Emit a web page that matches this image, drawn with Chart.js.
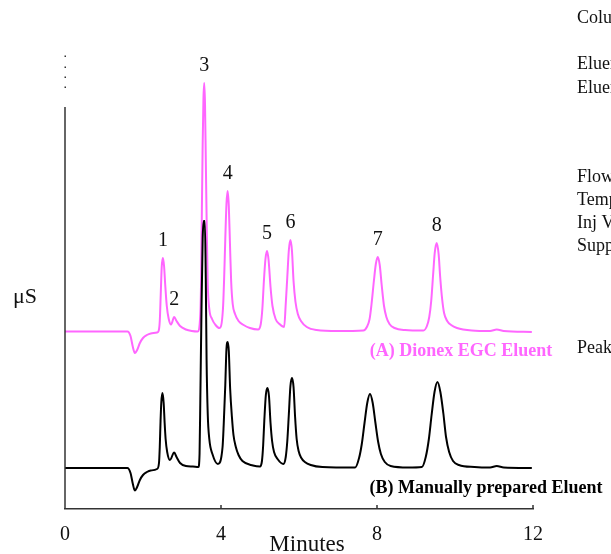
<!DOCTYPE html>
<html>
<head>
<meta charset="utf-8">
<script src="https://cdn.jsdelivr.net/npm/chart.js@4.4.1/dist/chart.umd.min.js"></script>
<style>
    body { margin: 0; background: #fff; }
    #chromChart { display: block; }
</style>
</head>
<body>
<canvas id="chromChart" width="611" height="554"></canvas>
<script>
// trace A - Dionex EGC eluent (pink)
var timeA = [0, 1.6, 1.68, 1.74, 1.79, 1.85, 1.92, 2.0, 2.1, 2.2, 2.36,
    2.4, 2.43, 2.455, 2.48, 2.51, 2.54, 2.57, 2.61, 2.66, 2.72,
    2.8, 2.86, 2.95, 3.1, 3.25, 3.4,
    3.47, 3.49, 3.51, 3.53, 3.55, 3.57, 3.59, 3.61, 3.635, 3.66, 3.7, 3.77, 3.86, 3.96,
    4.05, 4.08, 4.11, 4.14, 4.17, 4.2, 4.23, 4.26, 4.3, 4.36, 4.45, 4.58, 4.74, 4.95,
    5.02, 5.06, 5.1, 5.14, 5.18, 5.22, 5.27, 5.32, 5.4, 5.5, 5.62,
    5.66, 5.7, 5.74, 5.78, 5.82, 5.86, 5.91, 5.97, 6.05, 6.2, 6.45, 7.0, 7.65,
    7.74, 7.81, 7.86, 7.92, 7.97, 8.02, 8.07, 8.12, 8.18, 8.24, 8.32, 8.45, 8.72, 9.19,
    9.28, 9.34, 9.39, 9.44, 9.48, 9.53, 9.58, 9.62, 9.67, 9.72, 9.8, 9.9, 10.05, 10.43,
    10.9, 11.07, 11.25, 11.97];
var sigA = [177.5, 177.5, 173, 162, 156, 159, 166, 171, 174, 175.5, 176.5,
    178, 188, 215, 242, 251, 243, 224, 203, 190, 184.5,
    192, 188, 183, 179.5, 178, 177.5,
    195, 230, 300, 365, 410, 426, 405, 350, 280, 225, 200, 190, 184, 181,
    200, 230, 270, 305, 318, 303, 265, 228, 205, 195, 188, 184, 181, 179.5,
    185, 200, 228, 250, 258, 249, 222, 203, 190, 185, 182,
    205, 232, 259, 269, 258, 228, 207, 195, 188, 182, 179, 178, 178.5,
    182, 190, 205, 228, 245, 252, 244, 224, 203, 192, 185, 181, 179, 178.5,
    183, 192, 208, 235, 256, 266, 255, 232, 210, 196, 188, 184, 181, 178.5,
    178, 179.5, 178, 177];

// trace B - manually prepared eluent (black)
var timeB = [0, 1.6, 1.68, 1.74, 1.79, 1.85, 1.92, 2.0, 2.1, 2.2, 2.36,
    2.41, 2.43, 2.45, 2.47, 2.5, 2.53, 2.555, 2.58, 2.62, 2.69,
    2.8, 2.86, 2.95, 3.1, 3.28, 3.42,
    3.45, 3.47, 3.5, 3.53, 3.555, 3.585, 3.61, 3.63, 3.66, 3.7, 3.78, 3.92,
    4.04, 4.07, 4.11, 4.14, 4.17, 4.2, 4.235, 4.28, 4.32, 4.38, 4.45, 4.55, 4.82, 5.0,
    5.05, 5.08, 5.11, 5.15, 5.19, 5.23, 5.27, 5.31, 5.36, 5.45, 5.6,
    5.66, 5.7, 5.74, 5.78, 5.82, 5.86, 5.9, 5.94, 5.99, 6.06, 6.15, 6.3, 6.6, 7.44,
    7.54, 7.61, 7.68, 7.75, 7.82, 7.89, 7.96, 8.03, 8.1, 8.2, 8.35, 8.8, 9.15,
    9.25, 9.33, 9.4, 9.475, 9.55, 9.625, 9.7, 9.77, 9.85, 9.95, 10.1, 10.5,
    10.9, 11.07, 11.25, 11.97];
var sigB = [41, 41, 36, 25, 18.5, 22, 29, 34, 37, 38.5, 40,
    46, 62, 88, 107, 116, 106, 86, 70, 57, 49,
    56.5, 52, 46, 43, 42.5, 42,
    55, 110, 200, 270, 288, 288, 230, 150, 95, 70, 55, 45,
    62, 85, 124, 160, 167, 158, 120, 92, 74, 62, 54, 48, 43.5, 42.5,
    48, 63, 88, 114, 121, 113, 86, 68, 57, 50, 45,
    52, 68, 95, 123, 131, 122, 92, 70, 58, 51, 47, 44, 42, 41.5,
    51, 65, 86, 106, 115, 106, 86, 67, 55, 47, 43, 41.5, 42,
    52, 70, 94, 117, 127, 117, 96, 72, 57, 48, 44, 42,
    41.5, 43, 41.5, 41];

var xTicks = [0, 4, 8, 12];
var peakNames = ['1', '2', '3', '4', '5', '6', '7', '8'];
var peakTimes = [2.51, 2.8, 3.57, 4.17, 5.18, 5.78, 8.02, 9.53];
var sideLabels = ['Column:', 'Eluent:', 'Eluent Source:', 'Flow Rate:',
    'Temperature:', 'Inj Volume:', 'Suppressor:', 'Peaks:'];
var sideBaselines = [23, 69, 93, 182, 205, 228, 251, 353];

var pink = '#ff66ff';
var serif = "'Liberation Serif', 'Times New Roman', serif";

function toPoints(times, values) {
    return times.map(function (t, i) { return { x: t, y: values[i] }; });
}

// highest point of trace A close to a peak time
function peakHeight(t) {
    var best = 0;
    timeA.forEach(function (tt, i) {
        if (Math.abs(tt - t) < 0.06 && sigA[i] > best) best = sigA[i];
    });
    return best;
}

var decorations = {
    id: 'decorations',
    afterDraw: function (chart) {
        var ctx = chart.ctx;
        var xs = chart.scales.x;
        var ys = chart.scales.y;
        var area = chart.chartArea;
        ctx.save();

        // y axis, solid part then a few dots above
        ctx.strokeStyle = '#333';
        ctx.lineWidth = 1.5;
        ctx.beginPath();
        ctx.moveTo(area.left, area.bottom);
        ctx.lineTo(area.left, ys.getPixelForValue(402));
        ctx.stroke();
        ctx.fillStyle = '#333';
        [422, 432, 442, 453].forEach(function (v) {
            ctx.fillRect(area.left - 0.5, ys.getPixelForValue(v) - 0.5, 1.5, 1.5);
        });

        // small tick marks pointing up
        ctx.beginPath();
        xTicks.slice(1).forEach(function (v) {
            var px = xs.getPixelForValue(v);
            ctx.moveTo(px, area.bottom);
            ctx.lineTo(px, area.bottom - 4);
        });
        ctx.stroke();

        // peak numbers
        ctx.fillStyle = '#111';
        ctx.font = '20px ' + serif;
        ctx.textAlign = 'center';
        ctx.textBaseline = 'middle';
        peakNames.forEach(function (name, i) {
            var px = xs.getPixelForValue(peakTimes[i]);
            var py = ys.getPixelForValue(peakHeight(peakTimes[i]));
            ctx.fillText(name, px, py - 17);
        });

        // axis titles
        ctx.font = '22px ' + serif;
        ctx.fillText('\u03bcS', 25, 297);
        ctx.font = '23px ' + serif;
        ctx.fillText('Minutes', 307, 545);

        // trace labels
        ctx.font = 'bold 18px ' + serif;
        ctx.fillStyle = pink;
        ctx.fillText('(A) Dionex EGC Eluent', 461, 351);
        ctx.fillStyle = '#000';
        ctx.fillText('(B) Manually prepared Eluent', 486, 488);

        // conditions column, cut off by the page edge
        ctx.font = '18px ' + serif;
        ctx.fillStyle = '#111';
        ctx.textAlign = 'left';
        ctx.textBaseline = 'alphabetic';
        sideLabels.forEach(function (txt, i) {
            ctx.fillText(txt, 577, sideBaselines[i]);
        });
        ctx.restore();
    }
};

new Chart(document.getElementById('chromChart'), {
    type: 'line',
    data: {
        datasets: [
            {
                label: 'Manually prepared Eluent',
                data: toPoints(timeB, sigB),
                borderColor: '#000',
                borderWidth: 2,
                pointRadius: 0,
                cubicInterpolationMode: 'monotone'
            },
            {
                label: 'Dionex EGC Eluent',
                data: toPoints(timeA, sigA),
                borderColor: pink,
                borderWidth: 2,
                pointRadius: 0,
                cubicInterpolationMode: 'monotone'
            }
        ]
    },
    options: {
        responsive: false,
        animation: false,
        devicePixelRatio: 1,
        layout: { padding: { top: 56, left: 65, right: 78, bottom: 0 } },
        plugins: {
            legend: { display: false },
            tooltip: { enabled: false }
        },
        scales: {
            x: {
                type: 'linear',
                min: 0,
                max: 12,
                grid: { display: false, drawTicks: false },
                border: { display: true, color: '#333', width: 1.5 },
                afterBuildTicks: function (scale) {
                    scale.ticks = xTicks.map(function (v) { return { value: v }; });
                },
                afterFit: function (scale) { scale.height = 45; },
                ticks: {
                    color: '#111',
                    padding: 14,
                    maxRotation: 0,
                    autoSkip: false,
                    font: { family: serif, size: 20 }
                }
            },
            y: {
                display: false,
                min: 0,
                max: 453
            }
        }
    },
    plugins: [decorations]
});
</script>
</body>
</html>
